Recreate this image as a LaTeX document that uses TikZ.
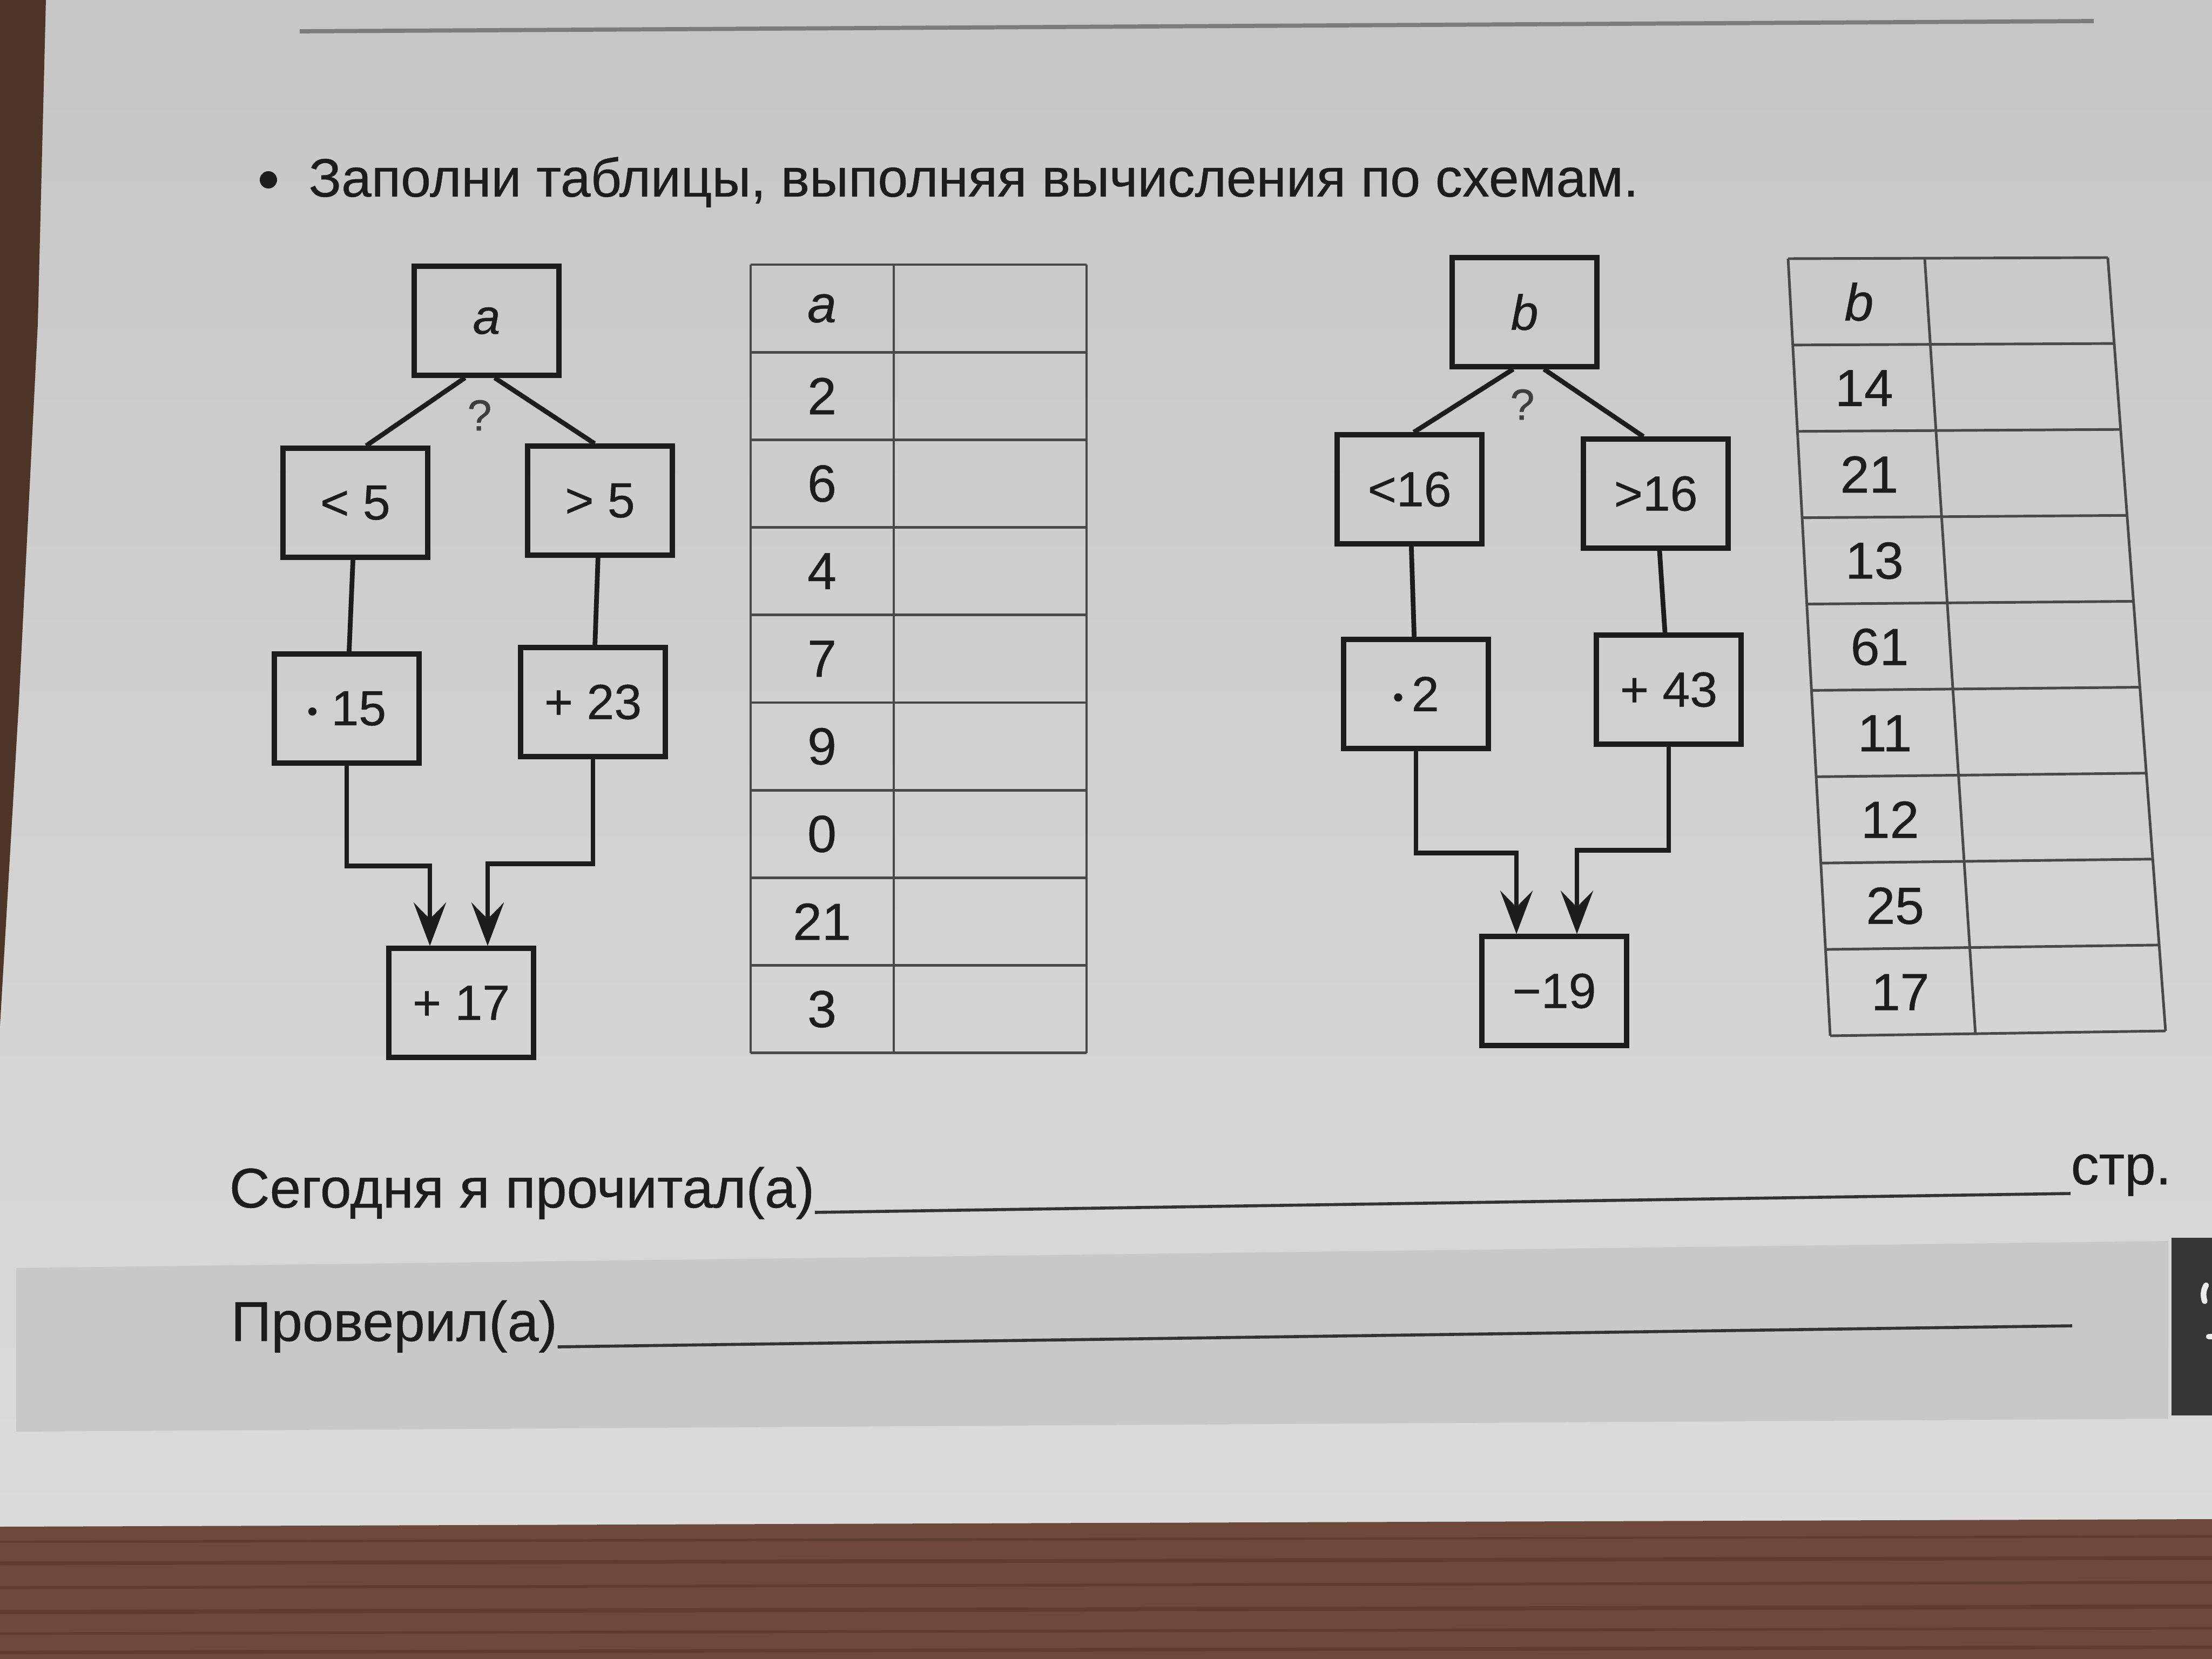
\documentclass[tikz,border=0pt]{standalone}
\usepackage{fontspec}
\setmainfont{Liberation Sans}[FakeBold=0.5]
\usepackage{tikz}
\usetikzlibrary{arrows.meta,positioning,calc}
\usepackage{xcolor}
\definecolor{paper}{HTML}{C6C6C6}
\definecolor{paperlow}{HTML}{DBDBDB}
\definecolor{band}{HTML}{C8C8C8}
\definecolor{wood}{HTML}{6E4838}
\definecolor{woodgrain}{HTML}{5E3C2E}
\definecolor{edge}{HTML}{4E3529}
\definecolor{ink}{HTML}{1C1C1C}
\definecolor{rulegray}{HTML}{7C7C7C}
\definecolor{tabfill}{HTML}{363636}
\newcommand{\mulpt}{\raisebox{0.08em}{\scalebox{0.6}{•}}}

\begin{document}
\begin{tikzpicture}[
  op/.style={draw=ink, line width=2.6pt, minimum width=2.68cm, minimum height=2.02cm, inner sep=0pt, text=ink, font=\fontsize{26}{28}\selectfont},
  branch/.style={draw=ink, line width=2.5pt},
  flow/.style={draw=ink, line width=2.5pt, -{Stealth[length=8mm,width=6mm,inset=3mm]}},
  ask/.style={text=ink!85, font=\fontsize{23}{25}\selectfont},
  tabline/.style={draw=ink!80, line width=1.4pt},
  cellnum/.style={text=ink, inner sep=0pt, font=\fontsize{27.5}{29}\selectfont},
  txt/.style={text=ink, inner sep=0pt, anchor=base west, font=\fontsize{29.5}{31}\selectfont},
  wline/.style={draw=ink!90, line width=1.6pt}
]
  \useasboundingbox (0,0) rectangle (40.96,-30.72);
  % page, table and photo edges
  \shade[top color=paper, bottom color=paperlow] (0,0) rectangle (40.96,-28.3);
  \fill[edge] (0,0) -- (0.85,0) -- (0.7,-6) -- (0.35,-13) -- (0,-19) -- cycle;
  \fill[band] (0.30,-23.48) -- (40.15,-22.98) -- (40.15,-26.27) -- (0.30,-26.51) -- cycle;
  \fill[tabfill] (40.21,-22.92) rectangle (40.96,-26.21);
  \draw[white!85!gray, line width=3pt, line cap=round] (40.85,-23.8) arc (150:200:0.35);
  \draw[white!85!gray, line width=3pt, line cap=round] (40.9,-24.75) -- (40.96,-24.75);
  \fill[wood] (0,-28.27) -- (40.96,-28.13) -- (40.96,-30.72) -- (0,-30.72) -- cycle;
  \foreach \y/\w in {28.55/1.2,28.95/2,29.4/1.5,29.85/2.2,30.25/1.4,30.6/1.8}
    \draw[woodgrain, line width=\w pt] (0,-\y) -- (40.96,-\y+0.1);
  \draw[rulegray, line width=2.2pt] (5.55,-0.58) -- (38.77,-0.39);

  % task line
  \node[circle, fill=ink, minimum size=3.2mm, inner sep=0pt] (dot) at (4.97,-3.33) {};
  \node[txt, font=\fontsize{28.5}{30}\selectfont] (task) at (5.71,-3.64) {Заполни таблицы, выполняя вычисления по схемам.};

  % scheme a
  \node[op] (na) at (9.01,-5.94) {\textit{a}};
  \node[ask] (qa) at (8.88,-7.69) {?};
  \node[op] (nlt) at (6.58,-9.31) {< 5};
  \node[op] (ngt) at (11.11,-9.27) {> 5};
  \node[op] (nmul) at (6.42,-13.12) {\mulpt\ 15};
  \node[op] (nadd) at (10.98,-13.00) {+ 23};
  \node[op] (nres) at (8.54,-18.57) {+ 17};
  \draw[branch] ([xshift=-4mm]na.south) -- ([xshift=2mm]nlt.north);
  \draw[branch] ([xshift=1.5mm]na.south) -- ([xshift=-1mm]ngt.north);
  \draw[branch] (nlt) -- (nmul);
  \draw[branch] (ngt) -- (nadd);
  \draw[flow] (nmul.south) -- ++(0,-1.86) -| ([xshift=-5.8mm]nres.north);
  \draw[flow] (nadd.south) -- ++(0,-1.94) -| ([xshift=4.9mm]nres.north);

  % table a
  \foreach \i in {0,...,9}
    \draw[tabline] (13.90,{-4.90-\i*1.622}) -- (20.12,{-4.90-\i*1.622});
  \foreach \x in {13.90,16.55,20.12}
    \draw[tabline] (\x,-4.90) -- (\x,-19.50);
  \foreach \v [count=\i] in {\textit{a},2,6,4,7,9,0,21,3}
    \node[cellnum] (ta\i) at (15.22,{-4.90-(\i-0.5)*1.622}) {\v};

  % scheme b
  \node[op] (nb) at (28.23,-5.78) {\textit{b}};
  \node[ask] (qb) at (28.19,-7.49) {?};
  \node[op] (nlt2) at (26.10,-9.06) {<16};
  \node[op] (ngt2) at (30.66,-9.14) {>16};
  \node[op] (nmul2) at (26.22,-12.85) {\mulpt\,2};
  \node[op] (nadd2) at (30.90,-12.77) {+ 43};
  \node[op] (nres2) at (28.78,-18.35) {−19};
  \draw[branch] ([xshift=-2.1mm]nb.south) -- ([xshift=0.8mm]nlt2.north);
  \draw[branch] ([xshift=3.6mm]nb.south) -- ([xshift=-2.3mm]ngt2.north);
  \draw[branch] (nlt2) -- (nmul2);
  \draw[branch] (ngt2) -- (nadd2);
  \draw[flow] (nmul2.south) -- ++(0,-1.89) -| ([xshift=-7mm]nres2.north);
  \draw[flow] (nadd2.south) -- ++(0,-1.92) -| ([xshift=4.2mm]nres2.north);

  % table b
  \coordinate (tl) at (33.11,-4.79);
  \coordinate (tm) at (35.64,-4.79);
  \coordinate (tr) at (39.03,-4.77);
  \coordinate (bl) at (33.89,-19.18);
  \coordinate (bm) at (36.58,-19.16);
  \coordinate (br) at (40.10,-19.09);
  \foreach \i in {0,...,9}
    \draw[tabline] ($(tl)!\i/9!(bl)$) -- ($(tr)!\i/9!(br)$);
  \draw[tabline] (tl) -- (bl) (tm) -- (bm) (tr) -- (br);
  \foreach \v [count=\i] in {\textit{b},14,21,13,61,11,12,25,17}
    \node[cellnum] (tb\i) at ({34.375+0.86*(\i-0.5)/9},{-4.79-14.38*(\i-0.5)/9}) {\v};

  % footer
  \node[txt] (read) at (4.24,-22.36) {Сегодня я прочитал(а)};
  \node[txt] (pages) at (38.34,-21.93) {стр.};
  \draw[wline] ([yshift=-0.9mm]read.base east) -- ([yshift=-1.7mm]pages.base west);
  \node[txt] (check) at (4.27,-24.83) {Проверил(а)};
  \coordinate (checkend) at (38.37,-24.55);
  \draw[wline] ([yshift=-1.1mm]check.base east) -- (checkend);
\end{tikzpicture}
\end{document}
